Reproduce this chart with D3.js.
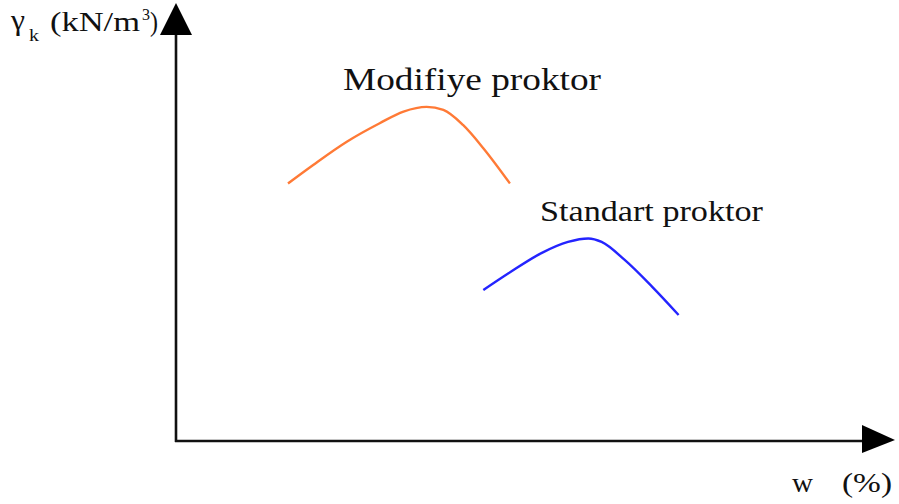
<!DOCTYPE html>
<html><head><meta charset="utf-8">
<script src="https://cdn.jsdelivr.net/npm/d3@7"></script>
<style>html,body{margin:0;padding:0;background:#fff;}svg{display:block;}
text{font-family:"Liberation Serif","Times New Roman",Times,serif;fill:#111;}</style>
</head><body>
<svg id="c" width="899" height="504"></svg>
<script>
// Data (arbitrary units, no numeric ticks in the original)
const modifiyeW = [16.0, 19.6, 24.4, 29.1, 32.5, 35.8, 38.2, 41.0, 43.9, 47.7];
const modifiyeG = [59.9, 64.2, 69.6, 73.9, 76.6, 77.7, 77.0, 73.5, 68.1, 59.9];
const standartW = [43.9, 47.5, 52.2, 56.0, 58.9, 60.8, 64.1, 68.0, 71.8];
const standartG = [35.1, 39.0, 43.7, 46.3, 47.1, 46.3, 42.1, 35.9, 29.3];
const seriesLabels = ["Modifiye proktor", "Standart proktor"];

const svg = d3.select("#c");
const x = d3.scaleLinear().domain([0, 100]).range([176, 876]);
const y = d3.scaleLinear().domain([0, 100]).range([441, 11]);

const ink = "#111";
// axes
svg.append("line").attr("x1", x(0)).attr("x2", x(0)).attr("y1", y(0) + 1).attr("y2", 34)
  .attr("stroke", ink).attr("stroke-width", 2.6);
svg.append("line").attr("x1", x(0) - 1).attr("x2", 862).attr("y1", y(0)).attr("y2", y(0))
  .attr("stroke", ink).attr("stroke-width", 2.6);
// arrowheads
svg.append("path").attr("d", `M${x(0)},3 L${x(0)+16},35 L${x(0)-16},35 Z`).attr("fill", "#000");
svg.append("path").attr("d", `M895,${y(0)-1} L862,425 L862,453 Z`).attr("fill", "#000");

const line = d3.line().x(d => x(d[0])).y(d => y(d[1])).curve(d3.curveMonotoneX);
svg.append("path").datum(d3.zip(modifiyeW, modifiyeG)).attr("d", line)
  .attr("fill", "none").attr("stroke", "#ff7a36").attr("stroke-width", 2.4);
svg.append("path").datum(d3.zip(standartW, standartG)).attr("d", line)
  .attr("fill", "none").attr("stroke", "#2424ff").attr("stroke-width", 2.4);

svg.append("text").attr("x", 343).attr("y", 90).style("font-size", "32px")
  .attr("textLength", 258).attr("lengthAdjust", "spacingAndGlyphs").text(seriesLabels[0]);
svg.append("text").attr("x", 540).attr("y", 221).style("font-size", "30px")
  .attr("textLength", 223).attr("lengthAdjust", "spacingAndGlyphs").text(seriesLabels[1]);

// y label
function t(px, py, size, str, len) {
  const e = svg.append("text").attr("x", px).attr("y", py).style("font-size", size + "px").text(str);
  if (len) e.attr("textLength", len).attr("lengthAdjust", "spacingAndGlyphs");
  return e;
}
t(11, 30, 30, "γ", 14);
t(29, 41, 17, "k", 10);
t(50, 31, 28, "(kN/m", 90);
t(142, 20, 16, "3", 8);
t(150, 31, 28, ")", 8);

// x label
t(792, 492, 27, "w", 21);
t(842, 492, 27, "(%)", 50);
</script>
</body></html>
